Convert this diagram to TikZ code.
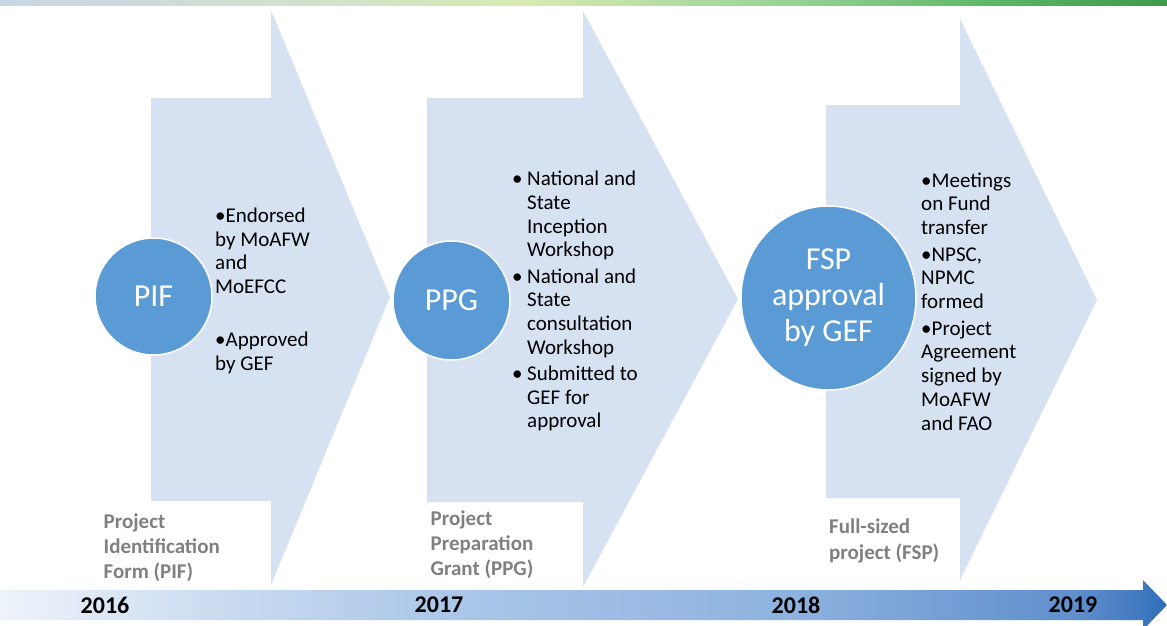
\documentclass[tikz,border=0pt]{standalone}
\usepackage{fontspec}
\setmainfont{Carlito}
\usetikzlibrary{shapes.geometric}
\definecolor{chev}{RGB}{214,225,242}
\definecolor{circ}{RGB}{91,155,213}
\definecolor{lbl}{RGB}{128,128,128}
\definecolor{tba}{RGB}{200,214,229}
\definecolor{tbb}{RGB}{210,228,200}
\definecolor{tbc}{RGB}{216,234,178}
\definecolor{tbd}{RGB}{150,210,150}
\definecolor{tbe}{RGB}{90,180,100}
\definecolor{tbf}{RGB}{60,155,75}
\definecolor{tla}{RGB}{238,243,250}
\definecolor{tlb}{RGB}{200,218,240}
\definecolor{tlc}{RGB}{172,199,233}
\definecolor{tld}{RGB}{141,178,223}
\definecolor{tle}{RGB}{96,143,204}
\definecolor{tlf}{RGB}{70,124,194}
\definecolor{tlg}{RGB}{46,110,184}
\pgfdeclarehorizontalshading{topbarshade}{100bp}{color(0bp)=(tba); color(25bp)=(tba); color(40bp)=(tbb); color(47.5bp)=(tbc); color(59bp)=(tbd); color(68bp)=(tbe); color(75bp)=(tbf); color(100bp)=(tbf)}
\pgfdeclarehorizontalshading{timelineshade}{100bp}{color(0bp)=(tla); color(25bp)=(tla); color(35bp)=(tlb); color(44bp)=(tlc); color(59bp)=(tld); color(71bp)=(tle); color(73.5bp)=(tlf); color(75bp)=(tlg); color(100bp)=(tlg)}
\begin{document}
\begin{tikzpicture}[x=1pt,y=-1pt,
  bubble/.style={shape=ellipse, fill=circ, draw=white, line width=1.5pt, inner sep=0pt,
    text=white, align=center, font=\fontsize{32}{36}\selectfont},
  bullettext/.style={anchor=base west, inner sep=0pt, text=black, font=\fontsize{21}{23.7}\selectfont},
  phaselabel/.style={anchor=base west, inner sep=0pt, text=lbl, font=\fontsize{21}{25.3}\selectfont\bfseries},
  yearlabel/.style={inner sep=0pt, text=black, font=\fontsize{24}{28}\selectfont\bfseries}]
\useasboundingbox (0,0) rectangle (1167,625);
\fill[white] (0,0) rectangle (1167,625);
% top bar
\shade[shading=topbarshade] (0,0) rectangle (1167,5);
% chevrons
\fill[chev] (151,98) -- (271,98) -- (271,10) -- (390,297) -- (271,585) -- (271,501) -- (151,501) -- cycle;
\fill[chev] (427,98) -- (583,98) -- (583,11) -- (738,299) -- (583,587) -- (583,502) -- (427,502) -- cycle;
\fill[chev] (826,105) -- (960,105) -- (960,19) -- (1097,300) -- (960,580) -- (960,498) -- (826,498) -- cycle;
% circles
\node[bubble, minimum width=117pt, minimum height=117pt] (pif) at (153.5,296.5) {PIF};
\node[bubble, minimum width=117pt, minimum height=119pt] (ppg) at (451.5,300.5) {PPG};
\node[bubble, minimum width=175pt, minimum height=184pt] (fsp) at (828.5,298) {FSP\\approval\\by GEF};
% bullet lists
\node[bullettext] (list1) at (215,222.5) {\begin{tabular}[t]{@{}l@{}}•Endorsed\\ by MoAFW\\ and\\ MoEFCC\\[29pt] •Approved\\ by GEF\end{tabular}};
\node[bullettext] (list2) at (512,185.8) {\begin{tabular}[t]{@{}l@{}l@{}}\makebox[15pt][l]{•} & National and\\ & State\\ & Inception\\ & Workshop\\[2.5pt] • & National and\\ & State\\ & consultation\\ & Workshop\\[2.5pt] • & Submitted to\\ & GEF for\\ & approval\end{tabular}};
\node[bullettext] (list3) at (921,187) {\begin{tabular}[t]{@{}l@{}}•Meetings\\ on Fund\\ transfer\\[3pt] •NPSC,\\ NPMC\\ formed\\[3pt] •Project\\ Agreement\\ signed by\\ MoAFW\\ and FAO\end{tabular}};
% phase labels
\node[phaselabel] (lpif) at (103.5,528) {\begin{tabular}[t]{@{}l@{}}Project\\ Identification\\ Form (PIF)\end{tabular}};
\node[phaselabel] (lppg) at (430.5,525) {\begin{tabular}[t]{@{}l@{}}Project\\ Preparation\\ Grant (PPG)\end{tabular}};
\node[phaselabel] (lfsp) at (829,533.7) {\begin{tabular}[t]{@{}l@{}}Full-sized\\ project (FSP)\end{tabular}};
% timeline
\shade[shading=timelineshade] (0,590) -- (1143,590) -- (1143,580) -- (1167,605) -- (1143,630) -- (1143,620) -- (0,620) -- cycle;
\node[yearlabel] (y2016) at (105,605) {2016};
\node[yearlabel] (y2017) at (439,605) {2017};
\node[yearlabel] (y2018) at (796,605) {2018};
\node[yearlabel] (y2019) at (1073,605) {2019};
\end{tikzpicture}
\end{document}
